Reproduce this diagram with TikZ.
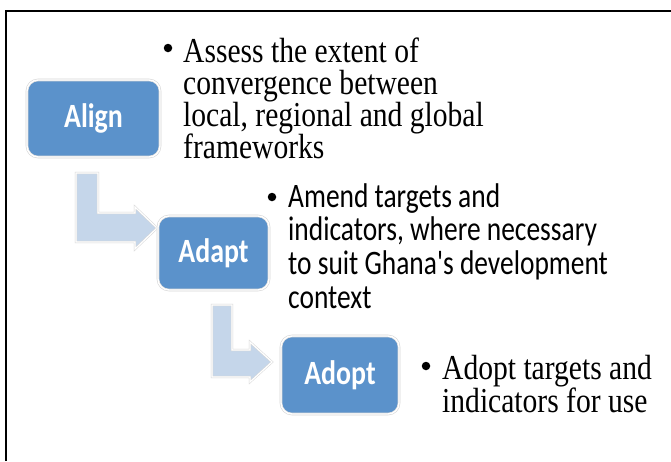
\documentclass[tikz,border=0pt]{standalone}
\usepackage{fontspec}
\newfontfamily\serifc[FakeStretch=0.845]{Liberation Serif}
\newfontfamily\sansc[FakeStretch=0.8]{Carlito}
\newfontfamily\sanscb[FakeStretch=0.82]{Carlito}
\definecolor{boxblue}{RGB}{91,146,203}
\definecolor{arrowblue}{RGB}{197,214,234}
\definecolor{rimgray}{RGB}{215,215,215}
\tikzset{
  stagebox/.style={rounded corners=11pt, fill=boxblue, draw=rimgray, double=white, double distance=1.4pt, line width=0.6pt,
    inner sep=0pt, text=white, font={\sanscb\bfseries\fontsize{34}{34}\selectfont}},
  bentarrow/.style={fill=arrowblue, draw=rimgray, double=white, double distance=1.2pt, line width=0.5pt, line join=miter},
  bulletmark/.style={circle, fill=black, inner sep=0pt, minimum size=8.5pt},
  desc/.style={inner sep=0pt, anchor=base west},
  frame/.style={line width=2.4pt, draw=black}
}
\begin{document}
\begin{tikzpicture}[x=1pt,y=-1pt]
\useasboundingbox (0,0) rectangle (671,461);
\fill[white] (0,0) rectangle (671,461);
% outer frame (only left and top edges visible)
\draw[frame] (6,461) -- (6,11) -- (671,11);

% bent arrows
\draw[bentarrow] (76,173) -- (98,173) -- (98,213) -- (135,213) -- (135,207) -- (157,228) -- (135,249) -- (135,242) -- (76,242) -- cycle;
\draw[bentarrow] (212,305) -- (232,305) -- (232,350) -- (250,350) -- (250,342) -- (272,362) -- (250,382) -- (250,377) -- (212,377) -- cycle;

% stage boxes
\node[stagebox, minimum width=133pt, minimum height=77pt] (align) at (93.5,118.5) {Align};
\node[stagebox, minimum width=111pt, minimum height=74pt] (adapt) at (213.5,253) {Adapt};
\node[stagebox, minimum width=118pt, minimum height=78pt] (adopt) at (340,375) {Adopt};

% bullets
\node[bulletmark] (b1) at (168,48) {};
\node[bulletmark] (b2) at (272,197) {};
\node[bulletmark] (b3) at (426,366) {};

% descriptions
\node[desc, font={\serifc\fontsize{35}{35}\selectfont}] (t1) at (183,62)
  {\vtop{\baselineskip=32.2pt\hbox{Assess the extent of}\hbox{convergence between}\hbox{local, regional and global}\hbox{frameworks}}};
\node[desc, font={\sansc\fontsize{34.3}{34.3}\selectfont}] (t2) at (288,207)
  {\vtop{\baselineskip=33.8pt\hbox{Amend targets and}\hbox{indicators, where necessary}\hbox{to suit Ghana's development}\hbox{context}}};
\node[desc, font={\serifc\fontsize{35}{35}\selectfont}] (t3) at (442,379)
  {\vtop{\baselineskip=33pt\hbox{Adopt targets and}\hbox{indicators for use}}};
\end{tikzpicture}
\end{document}
